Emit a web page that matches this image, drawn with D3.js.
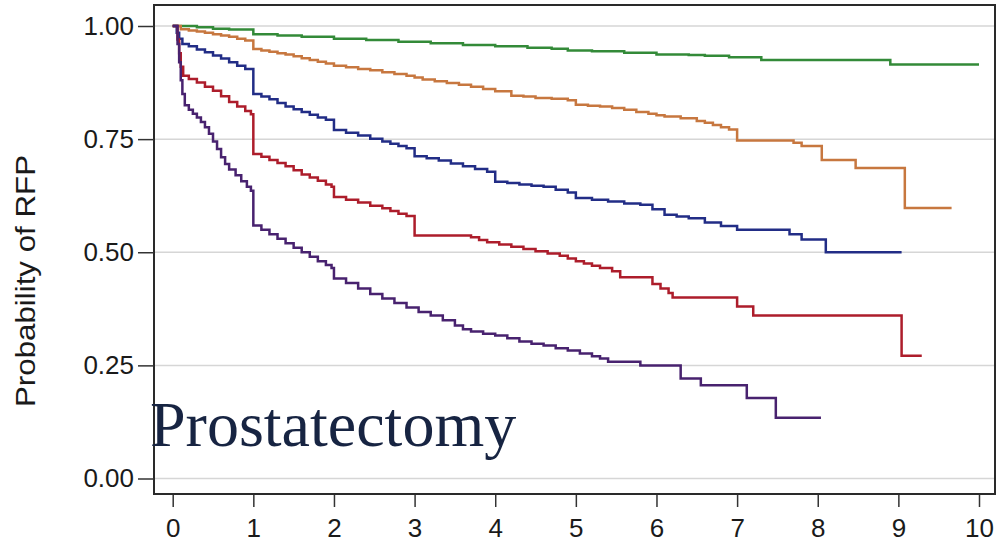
<!DOCTYPE html>
<html>
<head>
<meta charset="utf-8">
<script src="https://cdn.jsdelivr.net/npm/d3@7"></script>
<style>
body{margin:0;background:#fff;}
.tick text{font-family:"Liberation Sans",Arial,sans-serif;fill:#1a1a1a;}
</style>
</head>
<body>
<div id="chart"></div>
<script>
let width=997;
let height=545;

// tick labels
let xTicks=[0,1,2,3,4,5,6,7,8,9,10];
let yTicks=[0,0.25,0.5,0.75,1];

// KM curves [years, probability after the step]
let green=[[0,1],[0.3,0.997],[0.5,0.994],[0.7,0.992],[1.0,0.982],[1.3,0.979],[1.6,0.976],[2.0,0.972],[2.4,0.969],[2.8,0.965],[3.2,0.962],[3.6,0.958],[4.0,0.955],[4.4,0.952],[4.7,0.95],[4.9,0.946],[5.2,0.944],[5.6,0.941],[6.0,0.937],[6.4,0.936],[6.6,0.934],[6.9,0.931],[7.3,0.925],[8.9,0.915],[10.0,0.915]];
let orange=[[0,1],[0.1,0.993],[0.2,0.99],[0.3,0.988],[0.4,0.985],[0.5,0.982],[0.6,0.979],[0.7,0.976],[0.8,0.972],[0.9,0.968],[1.0,0.949],[1.1,0.946],[1.2,0.943],[1.3,0.94],[1.4,0.937],[1.5,0.933],[1.6,0.929],[1.7,0.925],[1.8,0.921],[1.9,0.917],[2.0,0.912],[2.15,0.909],[2.3,0.905],[2.45,0.902],[2.6,0.898],[2.75,0.894],[2.9,0.89],[3.0,0.886],[3.1,0.882],[3.25,0.878],[3.4,0.874],[3.55,0.87],[3.7,0.866],[3.85,0.861],[4.0,0.856],[4.2,0.846],[4.35,0.844],[4.5,0.841],[4.7,0.839],[4.9,0.836],[5.0,0.826],[5.15,0.824],[5.3,0.822],[5.45,0.819],[5.6,0.815],[5.75,0.81],[5.9,0.806],[6.0,0.803],[6.1,0.8],[6.3,0.796],[6.5,0.79],[6.6,0.786],[6.7,0.781],[6.8,0.776],[6.9,0.771],[7.0,0.747],[7.7,0.742],[7.8,0.735],[8.05,0.704],[8.47,0.686],[9.08,0.598],[9.66,0.598]];
let blue=[[0,1],[0.05,0.985],[0.08,0.972],[0.12,0.96],[0.2,0.955],[0.3,0.948],[0.4,0.942],[0.5,0.935],[0.6,0.928],[0.7,0.92],[0.8,0.912],[0.9,0.905],[1.0,0.85],[1.1,0.844],[1.2,0.838],[1.3,0.83],[1.4,0.822],[1.5,0.816],[1.6,0.81],[1.7,0.804],[1.8,0.798],[1.9,0.793],[2.0,0.77],[2.15,0.764],[2.3,0.758],[2.45,0.751],[2.6,0.745],[2.7,0.74],[2.8,0.735],[2.9,0.73],[3.0,0.712],[3.15,0.708],[3.3,0.703],[3.45,0.696],[3.6,0.69],[3.75,0.684],[3.9,0.678],[4.0,0.656],[4.15,0.653],[4.3,0.65],[4.45,0.647],[4.6,0.645],[4.75,0.638],[4.9,0.632],[5.0,0.62],[5.2,0.616],[5.4,0.612],[5.6,0.608],[5.8,0.605],[5.95,0.595],[6.1,0.583],[6.25,0.579],[6.4,0.575],[6.6,0.566],[6.8,0.558],[7.0,0.55],[7.65,0.54],[7.8,0.528],[8.1,0.5],[9.04,0.5]];
let red=[[0,1],[0.06,0.97],[0.08,0.94],[0.1,0.91],[0.13,0.89],[0.2,0.883],[0.3,0.875],[0.4,0.866],[0.5,0.857],[0.6,0.845],[0.7,0.832],[0.8,0.822],[0.9,0.812],[0.97,0.805],[1.0,0.717],[1.1,0.711],[1.2,0.704],[1.3,0.697],[1.4,0.69],[1.5,0.681],[1.6,0.672],[1.7,0.665],[1.8,0.658],[1.9,0.65],[1.97,0.645],[2.0,0.622],[2.15,0.616],[2.3,0.61],[2.45,0.603],[2.6,0.597],[2.7,0.591],[2.8,0.585],[2.9,0.58],[3.0,0.537],[3.7,0.533],[3.8,0.527],[3.9,0.522],[4.05,0.517],[4.2,0.512],[4.35,0.507],[4.5,0.502],[4.65,0.497],[4.8,0.492],[4.9,0.486],[5.0,0.48],[5.1,0.475],[5.2,0.47],[5.3,0.465],[5.45,0.458],[5.55,0.445],[5.95,0.43],[6.05,0.42],[6.15,0.41],[6.2,0.4],[7.0,0.38],[7.2,0.36],[9.04,0.271],[9.29,0.271]];
let purple=[[0,1],[0.06,0.96],[0.08,0.92],[0.1,0.88],[0.12,0.85],[0.15,0.825],[0.2,0.815],[0.25,0.806],[0.3,0.798],[0.35,0.788],[0.4,0.776],[0.45,0.762],[0.5,0.745],[0.55,0.728],[0.6,0.71],[0.65,0.695],[0.7,0.683],[0.78,0.67],[0.85,0.657],[0.92,0.645],[0.97,0.636],[1.0,0.559],[1.1,0.55],[1.2,0.54],[1.3,0.53],[1.4,0.52],[1.5,0.51],[1.6,0.5],[1.7,0.49],[1.8,0.48],[1.9,0.472],[1.97,0.465],[2.0,0.442],[2.15,0.432],[2.3,0.42],[2.45,0.408],[2.6,0.398],[2.75,0.388],[2.9,0.378],[3.05,0.368],[3.2,0.36],[3.35,0.35],[3.5,0.338],[3.6,0.33],[3.7,0.325],[3.85,0.32],[4.0,0.316],[4.15,0.31],[4.3,0.303],[4.45,0.298],[4.6,0.294],[4.75,0.288],[4.9,0.283],[5.05,0.276],[5.2,0.27],[5.3,0.265],[5.4,0.258],[5.8,0.25],[6.3,0.221],[6.55,0.206],[7.12,0.178],[7.48,0.134],[8.04,0.134]];

let series=[
  {data:green,color:"#338a38"},
  {data:orange,color:"#c7773f"},
  {data:blue,color:"#222d86"},
  {data:red,color:"#ad1d2b"},
  {data:purple,color:"#48226f"}
];

let frame={left:154,right:995,top:5,bottom:494};

let svg=d3.select("#chart").append("svg")
  .attr("width",width)
  .attr("height",height);

let xscale=d3.scaleLinear().domain([0,10]).range([172.7,979]);
let yscale=d3.scaleLinear().domain([0,1]).range([478.5,26]);

// grid
svg.selectAll(".grid")
  .data(yTicks)
  .enter()
  .append("line")
  .attr("x1",frame.left).attr("x2",frame.right)
  .attr("y1",d=>yscale(d)).attr("y2",d=>yscale(d))
  .attr("stroke","#d6d6d6")
  .attr("stroke-width",1.5);

// curves
let line=d3.line()
  .x(d=>xscale(d[0]))
  .y(d=>yscale(d[1]))
  .curve(d3.curveStepAfter);

svg.selectAll(".km")
  .data(series)
  .enter()
  .append("path")
  .attr("d",d=>line(d.data))
  .attr("fill","none")
  .attr("stroke",d=>d.color)
  .attr("stroke-width",2.5);

// frame
svg.append("rect")
  .attr("x",frame.left).attr("y",frame.top)
  .attr("width",frame.right-frame.left)
  .attr("height",frame.bottom-frame.top)
  .attr("fill","none")
  .attr("stroke","#2a2a2a")
  .attr("stroke-width",2);

// axes
let yAxis=d3.axisLeft(yscale).tickValues(yTicks).tickFormat(d3.format(".2f")).tickSize(16).tickPadding(4);
let gy=svg.append("g")
  .attr("transform","translate("+frame.left+",0)")
  .call(yAxis);
gy.select(".domain").remove();
gy.selectAll(".tick line").attr("stroke","#333").attr("stroke-width",1.5);
gy.selectAll(".tick text").attr("font-size",26);

let xAxis=d3.axisBottom(xscale).tickValues(xTicks).tickFormat(d3.format("d")).tickSize(12).tickPadding(12);
let gx=svg.append("g")
  .attr("transform","translate(0,"+(frame.bottom+1)+")")
  .call(xAxis);
gx.select(".domain").remove();
gx.selectAll(".tick line").attr("stroke","#333").attr("stroke-width",1.5);
gx.selectAll(".tick text").attr("font-size",26);

// y label
svg.append("text").text("Probability of RFP")
  .attr("text-anchor","middle")
  .attr("transform","translate(35,281) rotate(-90)")
  .attr("font-family","Liberation Sans, Arial, sans-serif")
  .attr("font-size",27)
  .attr("textLength",252)
  .attr("lengthAdjust","spacingAndGlyphs")
  .attr("fill","#1a1a1a");

// title inside
svg.append("text").text("Prostatectomy")
  .attr("x",150)
  .attr("y",446)
  .attr("font-family","Liberation Serif, Times New Roman, serif")
  .attr("font-size",64)
  .attr("fill","#172442");
</script>
</body>
</html>
